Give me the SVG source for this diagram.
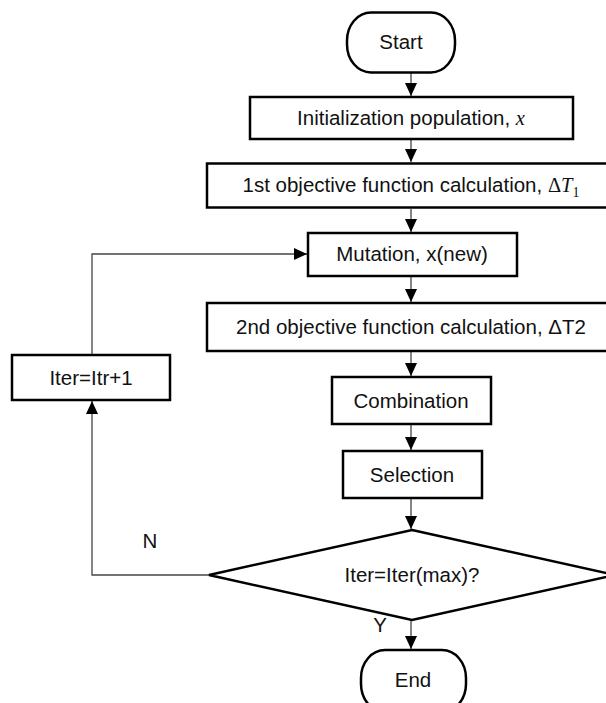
<svg xmlns="http://www.w3.org/2000/svg" width="606" height="703" viewBox="0 0 606 703">
<defs>
<marker id="ah" markerUnits="userSpaceOnUse" markerWidth="14" markerHeight="14" viewBox="0 0 14 14" refX="13" refY="7" orient="auto">
<path d="M0,1 L13,7 L0,13 Z" fill="#000"/>
</marker>
<style>
.box{fill:#fff;stroke:#000;stroke-width:2.5}
.t{font-family:"Liberation Sans",Arial,sans-serif;font-size:20.5px;fill:#111;text-anchor:middle}
.m{font-family:"Liberation Serif","Times New Roman",serif;font-style:italic}
.s{font-family:"Liberation Serif","Times New Roman",serif}
.c{fill:none;stroke:#444;stroke-width:1.3;marker-end:url(#ah)}
</style>
</defs>
<rect width="606" height="703" fill="#fff"/>
<g id="connectors">
<line class="c" x1="411" y1="73" x2="411" y2="96"/>
<line class="c" x1="411" y1="140" x2="411" y2="162"/>
<line class="c" x1="411" y1="209" x2="411" y2="232"/>
<line class="c" x1="411" y1="277" x2="411" y2="302"/>
<line class="c" x1="411" y1="352" x2="411" y2="376"/>
<line class="c" x1="411" y1="425" x2="411" y2="450"/>
<line class="c" x1="411" y1="499" x2="411" y2="529"/>
<line class="c" x1="411" y1="621" x2="411" y2="649"/>
<polyline class="c" points="209,575 92,575 92,401"/>
<polyline class="c" points="92,355 92,254 307,254"/>
</g>
<g id="start">
<rect class="box" x="347" y="12.5" width="108" height="60" rx="24" ry="28"/>
<text class="t" x="401" y="49">Start</text>
</g>
<g id="init">
<rect class="box" x="250" y="97" width="323" height="42"/>
<text class="t" x="411" y="125">Initialization population, <tspan class="m">x</tspan></text>
</g>
<g id="obj1">
<rect class="box" x="207" y="163.5" width="409" height="44"/>
<text class="t" x="411" y="192">1st objective function calculation, <tspan class="s">Δ</tspan><tspan class="m">T</tspan><tspan class="s" font-size="14" dy="5">1</tspan></text>
</g>
<g id="mutation">
<rect class="box" x="308" y="233" width="209" height="43"/>
<text class="t" x="412" y="261">Mutation, x(new)</text>
</g>
<g id="obj2">
<rect class="box" x="207" y="303" width="409" height="48"/>
<text class="t" x="411" y="334">2nd objective function calculation, ΔT2</text>
</g>
<g id="iter">
<rect class="box" x="12" y="355" width="158" height="45"/>
<text class="t" x="91" y="385">Iter=Itr+1</text>
</g>
<g id="combination">
<rect class="box" x="332" y="377" width="159" height="47"/>
<text class="t" x="411" y="408">Combination</text>
</g>
<g id="selection">
<rect class="box" x="343" y="451" width="139" height="47"/>
<text class="t" x="412" y="482">Selection</text>
</g>
<g id="decision">
<polygon class="box" points="412,530 615,575 412,620 209,575"/>
<text class="t" x="412" y="582">Iter=Iter(max)?</text>
</g>
<g id="end">
<rect class="box" x="361" y="650" width="105" height="62" rx="24" ry="28"/>
<text class="t" x="413" y="687">End</text>
</g>
<g id="labels">
<text class="t" x="150" y="548">N</text>
<text class="t" x="380" y="632">Y</text>
</g>
</svg>
